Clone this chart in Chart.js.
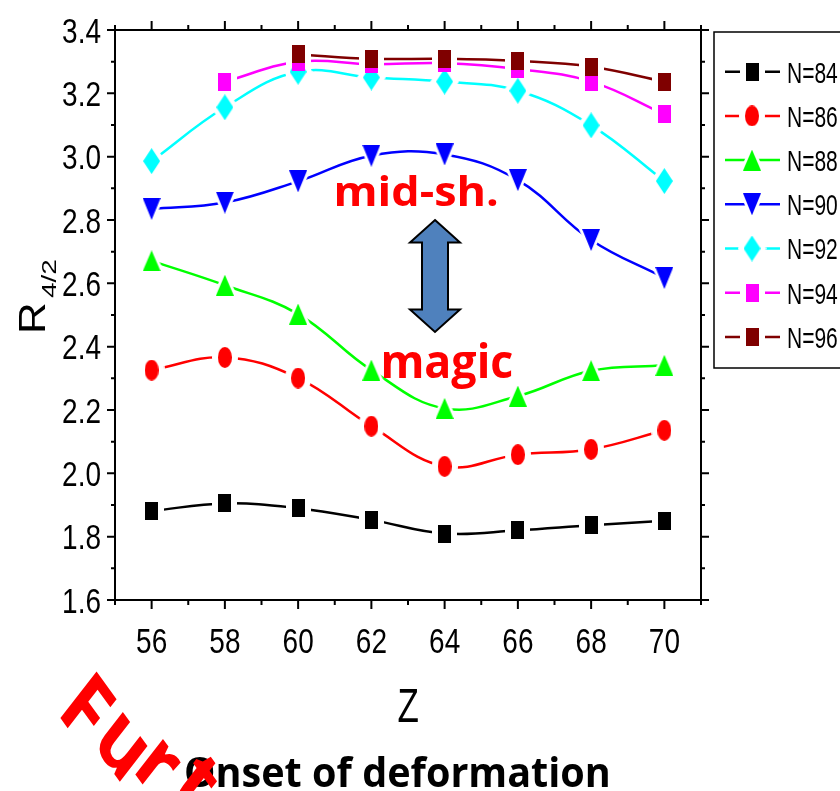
<!DOCTYPE html>
<html>
<head>
<meta charset="utf-8">
<script src="https://cdn.jsdelivr.net/npm/chart.js@4.4.0/dist/chart.umd.min.js"></script>
<style>
  html, body { margin: 0; padding: 0; background: #fff; }
</style>
</head>
<body>
<canvas id="myChart" width="840" height="791"></canvas>
<script>
// Data
const zValues = [56, 58, 60, 62, 64, 66, 68, 70];
const seriesNames = ["N=84", "N=86", "N=88", "N=90", "N=92", "N=94", "N=96"];
const n84 = [1.881, 1.905, 1.890, 1.853, 1.810, 1.820, 1.836, 1.850];
const n86 = [2.326, 2.366, 2.301, 2.149, 2.022, 2.059, 2.076, 2.136];
const n88 = [2.671, 2.594, 2.503, 2.326, 2.205, 2.244, 2.324, 2.341];
const n90 = [2.835, 2.855, 2.922, 3.003, 3.007, 2.926, 2.737, 2.617];
const n92 = [2.986, 3.156, 3.268, 3.250, 3.237, 3.208, 3.099, 2.923];
const n94 = [null, 3.237, 3.300, 3.292, 3.295, 3.277, 3.237, 3.134];
const n96 = [null, null, 3.323, 3.309, 3.309, 3.302, 3.284, 3.237];
const seriesValues = [n84, n86, n88, n90, n92, n94, n96];

const xTicks = [56, 58, 60, 62, 64, 66, 68, 70];
const xMinorTicks = [55, 57, 59, 61, 63, 65, 67, 69, 71];
const yTicks = [1.6, 1.8, 2.0, 2.2, 2.4, 2.6, 2.8, 3.0, 3.2, 3.4];
const yMinorTicks = [1.7, 1.9, 2.1, 2.3, 2.5, 2.7, 2.9, 3.1, 3.3];

// styles
const seriesColors = ["#000000", "#ff0000", "#00ff00", "#0000ff", "#00ffff", "#ff00ff", "#7f0000"];
const shapes = ["square", "circle", "up", "down", "diamond", "square", "square"];
const shapeSize = { square: [13, 18], circle: [14, 21], up: [18, 21], down: [18, 22], diamond: [17, 26] };
const ARIAL = '"Liberation Sans", Arial, sans-serif';

function makeMarker(shape, pad, color) {
  const w = shapeSize[shape][0] + pad * 2, h = shapeSize[shape][1] + pad * 2;
  const c = document.createElement("canvas");
  c.width = w; c.height = h;
  const g = c.getContext("2d");
  g.fillStyle = color;
  g.beginPath();
  if (shape === "square") g.rect(0, 0, w, h);
  else if (shape === "circle") g.ellipse(w / 2, h / 2, w / 2, h / 2, 0, 0, Math.PI * 2);
  else if (shape === "up") { g.moveTo(w / 2, 0); g.lineTo(w, h); g.lineTo(0, h); }
  else if (shape === "down") { g.moveTo(0, 0); g.lineTo(w, 0); g.lineTo(w / 2, h); }
  else { g.moveTo(w / 2, 0); g.lineTo(w, h / 2); g.lineTo(w / 2, h); g.lineTo(0, h / 2); }
  g.closePath();
  g.fill();
  return c;
}
const markerImgs = shapes.map((s, i) => makeMarker(s, 0, seriesColors[i]));
const haloImgs = shapes.map(s => makeMarker(s, 6, "#ffffff"));

// lines first, then white gaps, then symbols
const datasets = [];
seriesNames.forEach((name, i) => {
  const pts = zValues.map((z, k) => ({ x: z, y: seriesValues[i][k] }));
  datasets.push({ label: name, data: pts, borderColor: seriesColors[i], borderWidth: 2.5,
    pointRadius: 0, tension: 0.4, fill: false, order: 30 });
  datasets.push({ label: name + " gap", data: pts, showLine: false, pointStyle: haloImgs[i],
    pointRadius: 8, order: 20 });
  datasets.push({ label: name + " symbol", data: pts, showLine: false, pointStyle: markerImgs[i],
    pointRadius: 8, order: 10 - i });
});

function fitText(ctx, text, left, baseline, font, width, color) {
  ctx.save();
  ctx.font = font;
  ctx.fillStyle = color;
  ctx.textAlign = "left";
  ctx.textBaseline = "alphabetic";
  const m = ctx.measureText(text);
  const ink = m.actualBoundingBoxLeft + m.actualBoundingBoxRight;
  const sx = width / ink;
  ctx.translate(left + m.actualBoundingBoxLeft * sx, baseline);
  ctx.scale(sx, 1);
  ctx.fillText(text, 0, 0);
  ctx.restore();
}

// squeezed Arial text, like the narrow labels of the original
function narrowText(ctx, text, x, baseline, size, sx, align) {
  ctx.save();
  ctx.fillStyle = "#000";
  ctx.font = size + "px " + ARIAL;
  ctx.textAlign = align;
  ctx.textBaseline = "alphabetic";
  ctx.translate(x, baseline);
  ctx.scale(sx, 1);
  ctx.fillText(text, 0, 0);
  ctx.restore();
}

// box, major and minor ticks on all four sides, tick labels
const framePlugin = {
  id: "frame",
  afterDatasetsDraw(chart) {
    const { ctx, chartArea: a, scales: { x, y } } = chart;
    ctx.save();
    ctx.strokeStyle = "#000";
    ctx.lineWidth = 2;
    ctx.strokeRect(a.left, a.top, a.right - a.left, a.bottom - a.top);
    ctx.beginPath();
    const xt = (v, len) => {
      const px = x.getPixelForValue(v);
      ctx.moveTo(px, a.bottom); ctx.lineTo(px, a.bottom + len);
      ctx.moveTo(px, a.top); ctx.lineTo(px, a.top - len);
    };
    const yt = (v, len) => {
      const py = y.getPixelForValue(v);
      ctx.moveTo(a.left, py); ctx.lineTo(a.left - len, py);
      ctx.moveTo(a.right, py); ctx.lineTo(a.right + len, py);
    };
    xTicks.forEach(v => xt(v, 9));
    xMinorTicks.forEach(v => xt(v, 5));
    yTicks.forEach(v => yt(v, 8));
    yMinorTicks.forEach(v => yt(v, 4));
    ctx.stroke();
    ctx.restore();

    x.ticks.forEach(t => narrowText(ctx, String(t.value), x.getPixelForValue(t.value), 653, 35, 0.8, "center"));
    y.ticks.forEach(t => narrowText(ctx, t.value.toFixed(1), 101, y.getPixelForValue(t.value) + 12.5, 35, 0.8, "right"));
  }
};

// legend box on the right
const legendPlugin = {
  id: "sideLegend",
  afterDraw(chart) {
    const ctx = chart.ctx;
    ctx.save();
    ctx.strokeStyle = "#000";
    ctx.lineWidth = 1.5;
    ctx.strokeRect(714, 32, 140, 336);
    seriesNames.forEach((name, i) => {
      const cy = 71.7 + i * 44.2;
      ctx.strokeStyle = seriesColors[i];
      ctx.lineWidth = 2.5;
      ctx.beginPath(); ctx.moveTo(725, cy); ctx.lineTo(780, cy); ctx.stroke();
      const h = haloImgs[i], m = markerImgs[i];
      ctx.drawImage(h, 752 - h.width / 2, cy - h.height / 2);
      ctx.drawImage(m, 752 - m.width / 2, cy - m.height / 2);
      narrowText(ctx, name, 787, cy + 10.8, 30, 0.7, "left");
    });
    ctx.restore();
  }
};

// titles and annotations
const textPlugin = {
  id: "texts",
  afterDraw(chart) {
    const ctx = chart.ctx;
    // y title R_{4/2}
    ctx.save();
    ctx.fillStyle = "#000";
    ctx.textBaseline = "alphabetic";
    ctx.font = "44px " + ARIAL;
    ctx.translate(45, 334);
    ctx.scale(0.85, 1);
    ctx.rotate(-Math.PI / 2);
    ctx.fillText("R", 0, 0);
    ctx.restore();
    ctx.save();
    ctx.fillStyle = "#000";
    ctx.font = "28px " + ARIAL;
    ctx.translate(56, 298);
    ctx.scale(0.72, 1);
    ctx.rotate(-Math.PI / 2);
    ctx.fillText("4/2", 0, 0);
    ctx.restore();

    // x title and caption
    fitText(ctx, "Z", 398.3, 721.7, "49px " + ARIAL, 20, "#000");
    fitText(ctx, "Onset of deformation", 186, 786.7, 'bold 41px "Open Sans", sans-serif', 422, "#000");

    // annotations
    fitText(ctx, "mid-sh.", 336.7, 206, 'bold 42px "Open Sans", sans-serif', 160, "#ff0000");
    fitText(ctx, "magic", 383.3, 378.3, 'bold 46px "Open Sans", sans-serif', 129.4, "#ff0000");

    // double arrow
    const cx = 435, top = 220, bot = 332, hl = 22.5, hw = 25, sw = 13;
    ctx.save();
    ctx.beginPath();
    ctx.moveTo(cx, top);
    ctx.lineTo(cx + hw, top + hl); ctx.lineTo(cx + sw, top + hl);
    ctx.lineTo(cx + sw, bot - hl); ctx.lineTo(cx + hw, bot - hl);
    ctx.lineTo(cx, bot);
    ctx.lineTo(cx - hw, bot - hl); ctx.lineTo(cx - sw, bot - hl);
    ctx.lineTo(cx - sw, top + hl); ctx.lineTo(cx - hw, top + hl);
    ctx.closePath();
    ctx.fillStyle = "#4f81bd";
    ctx.fill();
    ctx.strokeStyle = "#000";
    ctx.lineWidth = 2;
    ctx.stroke();
    ctx.restore();

    // red word running off the bottom-left corner
    const letters = [["F", 84, 712], ["u", 122, 746], ["r", 157, 766], ["t", 195, 786]];
    ctx.save();
    ctx.fillStyle = "#ff0000";
    ctx.font = 'bold 94px "Open Sans", sans-serif';
    ctx.textAlign = "center";
    ctx.textBaseline = "middle";
    letters.forEach(([ch, lx, ly]) => {
      ctx.save();
      ctx.translate(lx, ly);
      ctx.scale(0.75, 1);
      ctx.rotate(46 * Math.PI / 180);
      ctx.fillText(ch, 0, 0);
      ctx.restore();
    });
    ctx.restore();
  }
};

const ctx = document.getElementById("myChart").getContext("2d");
const chart = new Chart(ctx, {
  type: "line",
  data: { datasets: datasets },
  options: {
    responsive: false,
    animation: false,
    events: [],
    layout: { padding: { top: 30, right: 139, left: 0, bottom: 0 } },
    plugins: { legend: { display: false }, tooltip: { enabled: false } },
    scales: {
      x: {
        type: "linear", min: 55, max: 71, position: "bottom",
        afterBuildTicks: s => { s.ticks = xTicks.map(v => ({ value: v })); },
        afterFit: s => { s.height = 191; },
        grid: { display: false }, border: { display: false },
        ticks: { display: false }
      },
      y: {
        type: "linear", min: 1.6, max: 3.4,
        afterBuildTicks: s => { s.ticks = yTicks.map(v => ({ value: v })); },
        afterFit: s => { s.width = 115; },
        grid: { display: false }, border: { display: false },
        ticks: { display: false }
      }
    }
  },
  plugins: [framePlugin, legendPlugin, textPlugin]
});
</script>
</body>
</html>
